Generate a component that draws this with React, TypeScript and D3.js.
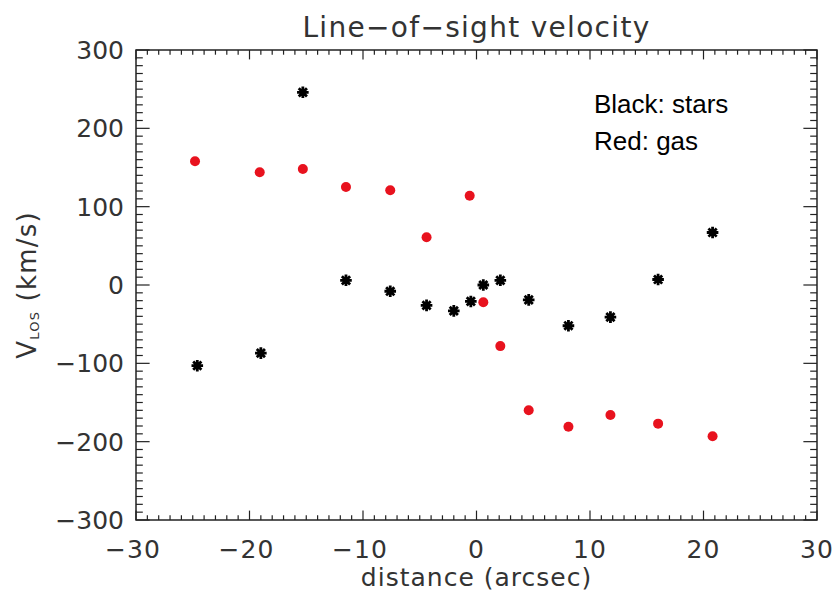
import React from "react";
import * as d3 from "d3";

// Line-of-sight velocity profile: stars vs. gas along the slit
const starDistance = [-24.6, -19.0, -15.3, -11.5, -7.6, -4.4, -2.0, -0.5, 0.6, 2.1, 4.6, 8.1, 11.8, 16.0, 20.8];
const starVelocity = [-103, -87, 246, 6, -8, -26, -33, -21, 0, 6, -19, -52, -41, 7, 67];

const gasDistance = [-24.8, -19.1, -15.3, -11.5, -7.6, -4.4, -0.6, 0.6, 2.1, 4.6, 8.1, 11.8, 16.0, 20.8];
const gasVelocity = [158, 144, 148, 125, 121, 61, 114, -22, -78, -160, -181, -166, -177, -193];

const xMajorTicks = [-30, -20, -10, 0, 10, 20, 30];
const yMajorTicks = [-300, -200, -100, 0, 100, 200, 300];

const W = 837;
const H = 598;
const left = 136;
const right = 817;
const top = 50;
const bottom = 520;

const axisColor = "#222";
const font = "'DejaVu Sans', sans-serif";

function label(v: number) {
  return v < 0 ? "\u2212" + Math.abs(v) : String(v);
}

export default function App() {
  const x = d3.scaleLinear().domain([-30, 30]).range([left, right]);
  const y = d3.scaleLinear().domain([-300, 300]).range([bottom, top]);

  const xLen = 0.02 * (bottom - top);
  const yLen = 0.02 * (right - left);

  const xMinor = d3.range(-30, 31, 1);
  const yMinor = d3.range(-300, 301, 10);

  const starPath = (() => {
    const r = 5.8;
    const d = r * Math.SQRT1_2;
    return `M${-r},0L${r},0M0,${-r}L0,${r}M${-d},${-d}L${d},${d}M${-d},${d}L${d},${-d}`;
  })();

  return (
    <svg
      width={W}
      height={H}
      viewBox={`0 0 ${W} ${H}`}
      style={{ position: "absolute", left: 0, top: 0, background: "#fff" }}
    >
      <rect width={W} height={H} fill="#fff" />

      {/* title */}
      <text x={(left + right) / 2} y={37} textAnchor="middle" fontFamily={font} fontSize={28} fill="#333" letterSpacing={1.3}>
        Line{"\u2212"}of{"\u2212"}sight velocity
      </text>

      {/* frame */}
      <rect x={left} y={top} width={right - left} height={bottom - top} fill="none" stroke={axisColor} strokeWidth={1.5} />

      {/* x ticks, bottom and top */}
      {xMinor.map((t) => {
        const major = t % 10 === 0;
        const len = major ? xLen : xLen / 2;
        const px = x(t);
        return (
          <g key={"xt" + t} stroke={axisColor} strokeWidth={1.2}>
            <line x1={px} x2={px} y1={bottom} y2={bottom - len} />
            <line x1={px} x2={px} y1={top} y2={top + len} />
          </g>
        );
      })}

      {/* y ticks, left and right */}
      {yMinor.map((t) => {
        const major = t % 100 === 0;
        const len = major ? yLen : yLen / 2;
        const py = y(t);
        return (
          <g key={"yt" + t} stroke={axisColor} strokeWidth={1.2}>
            <line x1={left} x2={left + len} y1={py} y2={py} />
            <line x1={right} x2={right - len} y1={py} y2={py} />
          </g>
        );
      })}

      {/* x tick labels */}
      {xMajorTicks.map((t) => (
        <text key={"xl" + t} x={x(t) - (t < 0 ? 3 : 0)} y={558} textAnchor="middle" fontFamily={font} fontSize={25} fill="#333" letterSpacing={1}>
          {label(t)}
        </text>
      ))}

      {/* y tick labels */}
      {yMajorTicks.map((t) => (
        <text key={"yl" + t} x={left - 12} y={y(t) + 9} textAnchor="end" fontFamily={font} fontSize={25} fill="#333">
          {label(t)}
        </text>
      ))}

      {/* axis titles */}
      <text x={(left + right) / 2} y={586} textAnchor="middle" fontFamily={font} fontSize={25} fill="#333" letterSpacing={1}>
        distance (arcsec)
      </text>
      <text transform={`translate(36, ${y(0)}) rotate(-90)`} textAnchor="middle" fontFamily={font} fontSize={26} fill="#333" letterSpacing={1.2}>
        V<tspan fontSize={13} dy={3}>LOS</tspan>
        <tspan dy={-3}> (km/s)</tspan>
      </text>

      {/* gas */}
      {gasDistance.map((d, i) => (
        <circle key={"g" + i} cx={x(d)} cy={y(gasVelocity[i])} r={5} fill="#e8121e" />
      ))}

      {/* stars */}
      {starDistance.map((d, i) => (
        <path
          key={"s" + i}
          d={starPath}
          transform={`translate(${x(d)},${y(starVelocity[i])})`}
          stroke="#000"
          strokeWidth={2.8}
          fill="none"
        />
      ))}

      {/* legend note */}
      <text x={594} y={113} fontFamily="'Liberation Sans', Arial, sans-serif" fontSize={26} fill="#000">
        Black: stars
      </text>
      <text x={594} y={150} fontFamily="'Liberation Sans', Arial, sans-serif" fontSize={26} fill="#000">
        Red: gas
      </text>
    </svg>
  );
}
